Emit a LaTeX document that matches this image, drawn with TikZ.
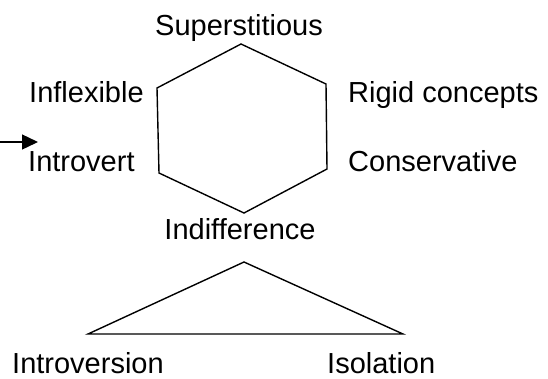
\documentclass[tikz,border=0pt]{standalone}
\usepackage{fontspec}
\setmainfont{Liberation Sans}
\usetikzlibrary{arrows.meta}
\begin{document}
\begin{tikzpicture}[x=1pt,y=-1pt,
  lbl/.style={inner sep=0pt, font=\fontsize{29}{34}\selectfont},
  edge/.style={line width=1.4pt, line join=miter},
  pointer/.style={line width=1.4pt, -{Triangle[length=16pt,width=15pt]}}]
\useasboundingbox (0,0) rectangle (548,378);
% labels
\node[lbl, anchor=base] (sup) at (239,35) {Superstitious};
\node[lbl, anchor=base west] (infl) at (29,102) {Inflexible};
\node[lbl, anchor=base west] (rigid) at (348,102) {Rigid concepts};
\node[lbl, anchor=base west] (intro) at (28,171) {Introvert};
\node[lbl, anchor=base west] (cons) at (348,171) {Conservative};
\node[lbl, anchor=base] (indiff) at (240,239) {Indifference};
\node[lbl, anchor=base west, text depth=0pt] (introv) at (12,373) {Introversion};
\node[lbl, anchor=base west, text depth=0pt] (isol) at (327,373) {Isolation};
% hexagon
\coordinate (h1) at (241,44);
\coordinate (h2) at (326,84);
\coordinate (h3) at (327,169);
\coordinate (h4) at (244,213);
\coordinate (h5) at (159,173);
\coordinate (h6) at (157,88);
\draw[edge] (h1) -- (h2) -- (h3) -- (h4) -- (h5) -- (h6) -- cycle;
% triangle
\coordinate (t1) at (244,262);
\coordinate (t2) at (403,334);
\coordinate (t3) at (88,334);
\draw[edge] (t1) -- (t2) -- (t3) -- cycle;
% arrow
\coordinate (a0) at (0,142);
\coordinate (a1) at (38,142);
\draw[pointer] (a0) -- (a1);
\end{tikzpicture}
\end{document}
